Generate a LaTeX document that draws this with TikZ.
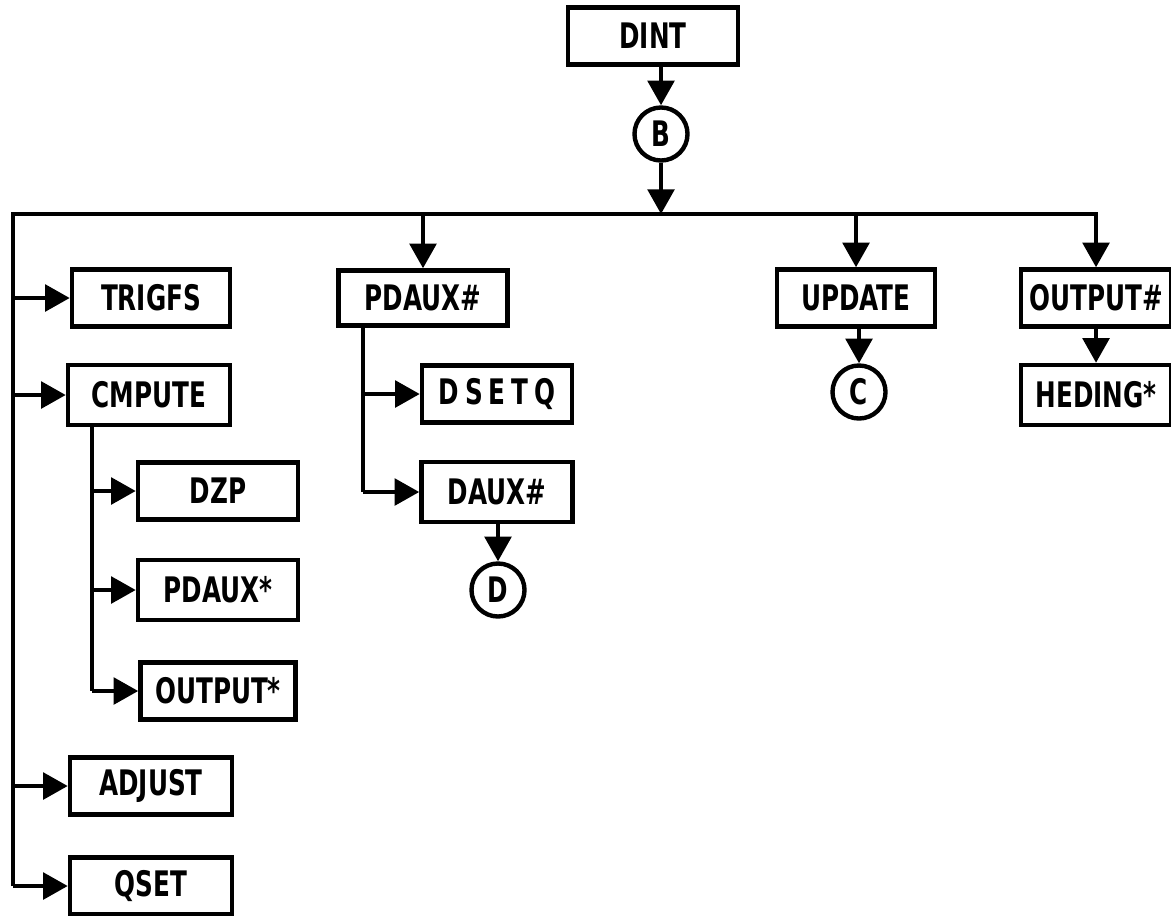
\documentclass[tikz,border=0pt]{standalone}
\usepackage{fontspec}
\setmainfont{DejaVu Sans Condensed}[FakeStretch=0.78]
\usetikzlibrary{arrows.meta}

\begin{document}
\begin{tikzpicture}[x=0.01cm,y=-0.01cm,
    box/.style={draw,line width=1.25pt,minimum width=1.58cm,minimum height=0.57cm,inner sep=0pt,font=\bfseries\fontsize{10}{11}\selectfont},
    link/.style={draw,circle,line width=1.25pt,minimum size=0.53cm,inner sep=0pt,font=\bfseries\fontsize{10}{11}\selectfont},
    conn/.style={line width=1.25pt},
    arr/.style={conn,-{Triangle[length=7pt,width=7.5pt]}}]
    \useasboundingbox (0,0) rectangle (1171,915);

    % DINT and entry
    \node[box,minimum width=1.70cm] (dint) at (653,36) {DINT};
    \node[link] (b) at (661,134) {B};
    \coordinate (busl) at (13,214);

    % top row
    \node[box] (trigfs) at (151,298) {TRIGFS};
    \node[box,minimum width=1.69cm,minimum height=0.55cm] (pdauxh) at (423,298) {PDAUX\#};
    \node[box] (update) at (856,298) {UPDATE};
    \node[box,minimum width=1.50cm] (outputh) at (1096,298) {OUTPUT\#};

    % second row
    \node[box,minimum width=1.62cm,minimum height=0.60cm] (cmpute) at (149,395) {CMPUTE};
    \node[box,minimum width=1.50cm] (dsetq) at (497,394) {D\,S\,E\,T\,Q};
    \node[link] (c) at (859,392) {C};
    \node[box,minimum width=1.50cm,minimum height=0.60cm] (heding) at (1096,395) {HEDING*};

    % under PDAUX#
    \node[box,minimum width=1.51cm,minimum height=0.60cm] (dauxh) at (497,492) {DAUX\#};
    \node[link] (d) at (498,590) {D};

    % under CMPUTE
    \node[box,minimum width=1.60cm] (dzp) at (218,491) {DZP};
    \node[box,minimum width=1.60cm,minimum height=0.60cm] (pdauxs) at (218,590) {PDAUX*};
    \node[box,minimum width=1.55cm] (outputs) at (218,691) {OUTPUT*};

    % bottom of left column
    \node[box,minimum width=1.62cm] (adjust) at (151,786) {ADJUST};
    \node[box,minimum width=1.62cm] (qset) at (151,886) {QSET};

    % Main bus
    \draw[arr] (dint.south -| b) -- (b);
    \draw[arr] (b) -- (b |- busl);
    \draw[arr] (busl |- qset) -- (busl) -| (outputh.north);
    \draw[arr] (pdauxh |- busl) -- (pdauxh);
    \draw[arr] (update |- busl) -- (update);
    \foreach \n in {trigfs,cmpute,adjust,qset}
        \draw[arr] (busl |- \n) -- (\n.west);

    % CMPUTE branch
    \path (cmpute.south) ++(-57,0) coordinate (cmp);
    \draw[conn] (cmp) -- (cmp |- outputs);
    \foreach \n in {dzp,pdauxs,outputs}
        \draw[arr] (cmp |- \n) -- (\n.west);

    % PDAUX# branch
    \path (pdauxh.south) ++(-60,0) coordinate (pdb);
    \draw[conn] (pdb) -- (pdb |- dauxh);
    \foreach \n in {dsetq,dauxh}
        \draw[arr] (pdb |- \n) -- (\n.west);
    \draw[arr] (dauxh.south -| d) -- (d);

    % right side
    \draw[arr] (update.south -| c) -- (c);
    \draw[arr] (outputh) -- (heding);
\end{tikzpicture}
\end{document}
